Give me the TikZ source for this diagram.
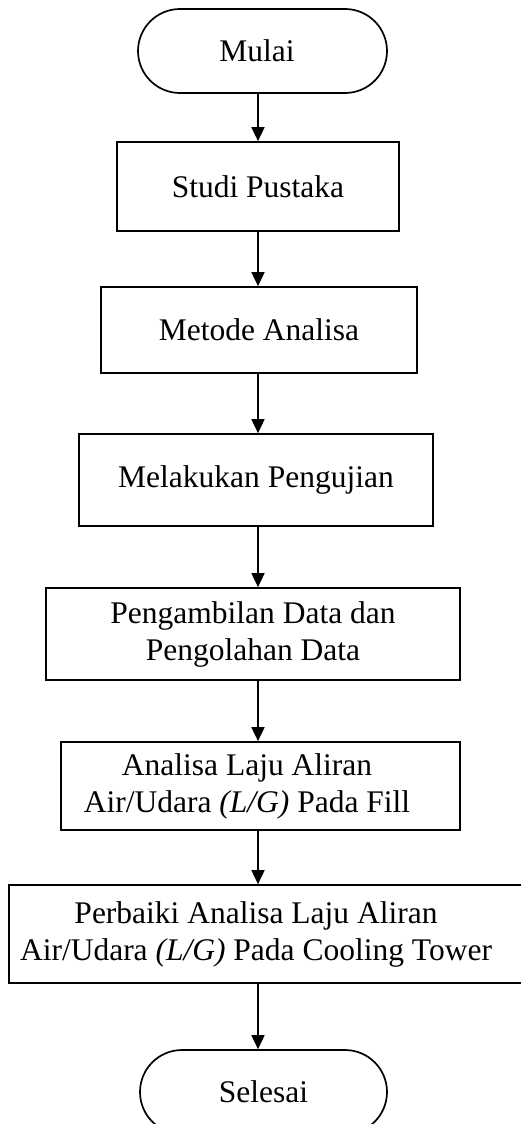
\documentclass[tikz,border=0pt]{standalone}
\usepackage{fontspec}
\setmainfont{Liberation Serif}
\usetikzlibrary{arrows.meta}
\begin{document}
\begin{tikzpicture}[x=1pt,y=-1pt,
  every node/.style={font=\fontsize{31.5}{37}\selectfont, align=center, inner sep=0pt},
  procbox/.style={draw, line width=1.7pt, rectangle},
  termbox/.style={draw, line width=1.7pt, rectangle, rounded corners=42pt},
  arr/.style={line width=1.7pt, -{Triangle[width=13pt,length=14pt]}}]
\useasboundingbox (0,0) rectangle (521,1124);
\coordinate (axis) at (258,0);
\node[termbox, minimum width=249pt, minimum height=84pt] (mulai) at (262.5,51) {Mulai\hspace*{11pt}};
\node[procbox, minimum width=282pt, minimum height=89pt] (studi) at (258,186.5) {Studi Pustaka};
\node[procbox, minimum width=316pt, minimum height=86pt] (metode) at (259,330) {Metode Analisa};
\node[procbox, minimum width=354pt, minimum height=92pt] (uji) at (256,480) {Melakukan Pengujian};
\node[procbox, minimum width=414pt, minimum height=92pt] (data) at (253,634) {Pengambilan Data dan\\Pengolahan Data};
\node[procbox, minimum width=399pt, minimum height=88pt] (fill) at (260.5,786) {Analisa Laju Aliran\hspace*{27pt}\\Air/Udara \textit{(L/G)} Pada Fill\hspace*{27pt}};
\node[procbox, minimum width=516pt, minimum height=98pt] (tower) at (267,934) {Perbaiki Analisa Laju Aliran\hspace*{22pt}\\Air/Udara \textit{(L/G)} Pada Cooling Tower\hspace*{22pt}};
\node[termbox, minimum width=247pt, minimum height=84pt] (selesai) at (263.5,1092) {Selesai};
\draw[arr] (mulai.south -| axis) -- (studi.north -| axis);
\draw[arr] (studi.south -| axis) -- (metode.north -| axis);
\draw[arr] (metode.south -| axis) -- (uji.north -| axis);
\draw[arr] (uji.south -| axis) -- (data.north -| axis);
\draw[arr] (data.south -| axis) -- (fill.north -| axis);
\draw[arr] (fill.south -| axis) -- (tower.north -| axis);
\draw[arr] (tower.south -| axis) -- (selesai.north -| axis);
\end{tikzpicture}
\end{document}
